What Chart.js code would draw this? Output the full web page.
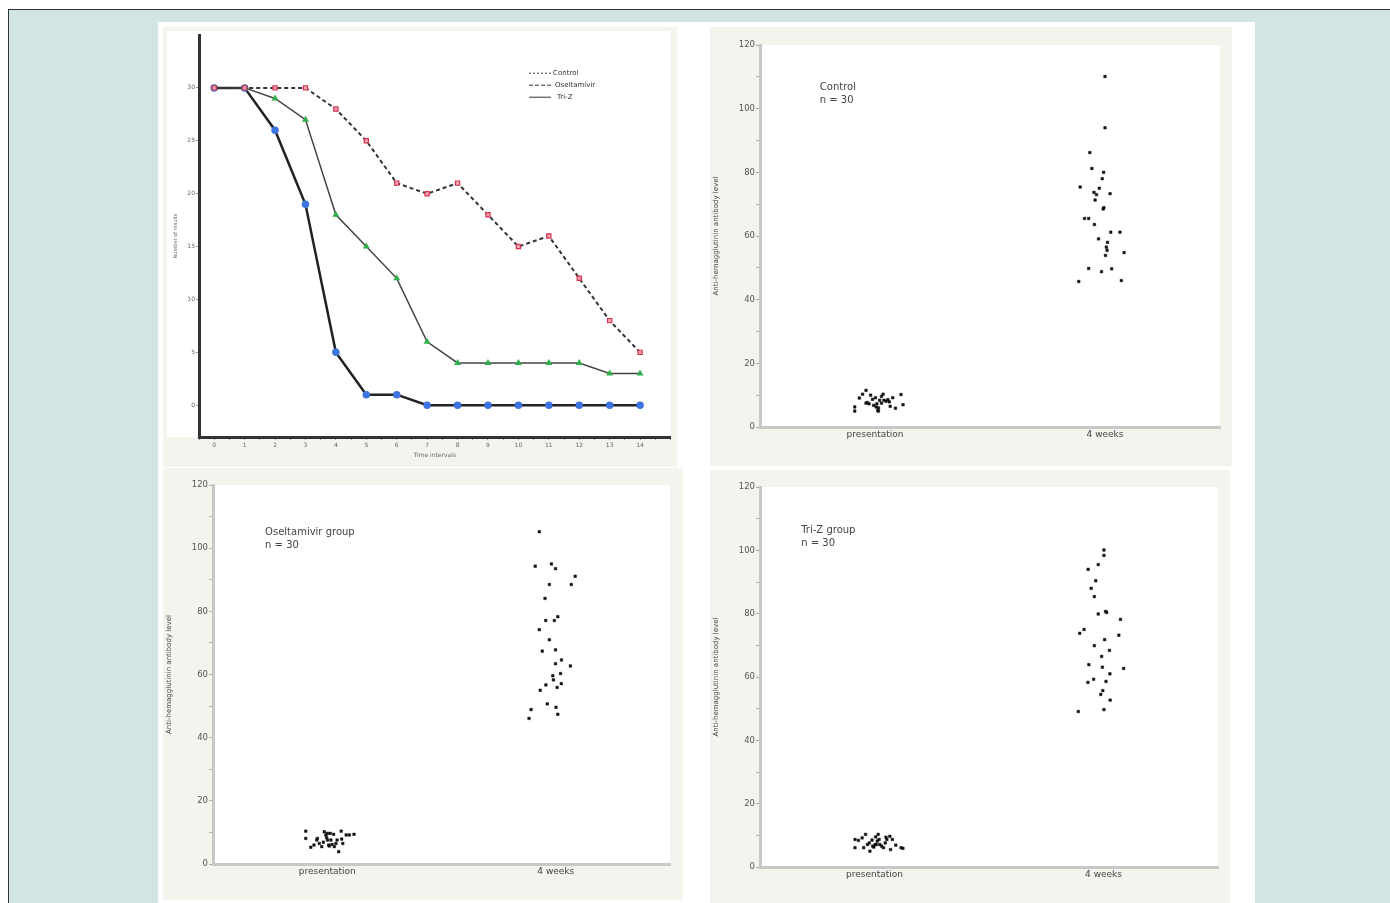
<!DOCTYPE html>
<html>
<head>
<meta charset="utf-8">
<script src="https://cdn.jsdelivr.net/npm/chart.js@4"></script>
<style>
  html, body { margin: 0; padding: 0; background: #fff; }
  body { width: 1390px; height: 903px; position: relative; overflow: hidden; }
  #frame { position: absolute; left: 8px; top: 9px; right: 0; bottom: 0; background: #d3e5e3; border-top: 1px solid #333; border-left: 1px solid #333; }
  #sheet { position: absolute; left: 158px; top: 22px; width: 1097px; height: 881px; background: #fff; }
  .panel { position: absolute; }
</style>
</head>
<body>
<div id="frame"></div>
<div id="sheet"></div>
<div class="panel" style="left:163px; top:27px; width:514px; height:440px;"><canvas id="survival"></canvas></div>
<div class="panel" style="left:710px; top:27px; width:522px; height:439px;"><canvas id="control"></canvas></div>
<div class="panel" style="left:163px; top:468px; width:520px; height:432px;"><canvas id="oseltamivir"></canvas></div>
<div class="panel" style="left:710px; top:470px; width:520px; height:433px;"><canvas id="triz"></canvas></div>
<script>
// time course (top left)
const intervals = [0, 1, 2, 3, 4, 5, 6, 7, 8, 9, 10, 11, 12, 13, 14];
const controlCounts = [30, 30, 30, 30, 28, 25, 21, 20, 21, 18, 15, 16, 12, 8, 5];
const oseltamivirCounts = [30, 30, 29, 27, 18, 15, 12, 6, 4, 4, 4, 4, 4, 3, 3];
const trizCounts = [30, 30, 26, 19, 5, 1, 1, 0, 0, 0, 0, 0, 0, 0, 0];

// antibody levels, x jitter
const groups = ['presentation', '4 weeks'];

const controlPres = [6.3, 5.0, 9.1, 10.3, 11.5, 7.5, 10.0, 7.3, 6.8, 9.2, 6.3, 5.2, 8.4, 9.6, 10.3, 8.4, 8.1, 8.6, 6.5, 9.2, 5.9, 10.2, 7.0, 6.0, 8.7, 7.3, 7.7, 7.9, 7.5, 5.0];
const controlPresJitter = [-0.088, -0.088, -0.068, -0.054, -0.039, -0.039, -0.019, -0.026, -0.006, 0.002, 0.005, 0.012, 0.02, 0.028, 0.035, 0.039, 0.048, 0.056, 0.066, 0.077, 0.089, 0.113, 0.122, 0.015, -0.011, 0.008, -0.034, 0.062, 0.028, 0.015];
const controlWeek4 = [110.1, 94.0, 86.2, 81.2, 80.0, 78.0, 75.4, 75.0, 73.7, 73.3, 73.0, 71.3, 68.9, 68.5, 65.5, 65.5, 63.6, 61.2, 61.2, 59.1, 58.0, 55.5, 56.5, 54.8, 53.9, 49.8, 49.7, 48.8, 46.0, 45.7];
const controlWeek4Jitter = [0.0, 0.0, -0.066, -0.057, -0.006, -0.012, -0.108, -0.025, -0.048, 0.022, -0.037, -0.043, -0.005, -0.008, -0.089, -0.071, -0.046, 0.025, 0.065, -0.028, 0.011, 0.009, 0.006, 0.083, 0.002, -0.071, 0.029, -0.015, 0.071, -0.114];

const oselPres = [10.4, 8.1, 5.3, 6.0, 7.6, 6.5, 5.5, 10.2, 9.2, 8.4, 7.6, 5.7, 9.7, 6.2, 9.4, 5.5, 6.5, 3.9, 10.4, 7.9, 6.5, 9.2, 9.2, 9.4, 9.7, 7.6, 6.9, 8.1, 7.6, 6.0];
const oselPresJitter = [-0.094, -0.094, -0.072, -0.058, -0.046, -0.035, -0.024, -0.013, -0.006, -0.003, 0.001, 0.009, 0.013, 0.021, 0.028, 0.031, 0.038, 0.050, 0.061, 0.063, 0.068, 0.083, 0.097, 0.117, 0.001, 0.016, -0.017, -0.043, 0.043, 0.006];
const oselWeek4 = [105.2, 94.3, 95.0, 93.5, 91.1, 88.5, 88.5, 84.1, 77.1, 77.1, 78.3, 74.2, 71.0, 67.4, 67.8, 64.6, 63.4, 62.7, 59.6, 60.3, 58.3, 56.7, 57.1, 55.9, 55.0, 50.7, 49.6, 48.9, 47.4, 46.1];
const oselWeek4Jitter = [-0.072, -0.090, -0.019, -0.001, 0.085, -0.028, 0.068, -0.047, -0.044, -0.006, 0.009, -0.072, -0.028, -0.059, -0.001, 0.025, -0.001, 0.064, -0.013, 0.021, -0.010, -0.043, 0.024, 0.006, -0.068, -0.037, 0.001, -0.108, 0.009, -0.117];

const trizPres = [6.1, 8.7, 8.4, 10.3, 7.1, 5.0, 8.5, 6.3, 9.5, 7.1, 10.3, 8.7, 6.6, 6.1, 7.6, 8.7, 9.7, 5.5, 8.7, 6.9, 6.1, 5.9, 9.2, 6.1, 7.1, 7.1, 7.6, 9.4, 8.2, 6.6];
const trizPresJitter = [-0.085, -0.085, -0.070, -0.039, -0.031, -0.020, -0.011, -0.003, 0.005, 0.008, 0.016, 0.020, 0.031, 0.039, 0.047, 0.054, 0.067, 0.070, 0.078, 0.093, 0.116, 0.124, -0.054, -0.047, 0.003, 0.023, -0.023, 0.050, 0.012, -0.008];
const trizWeek4 = [100.1, 98.4, 95.5, 94.0, 90.4, 88.0, 85.4, 80.7, 80.4, 79.9, 78.2, 75.0, 73.8, 73.2, 71.8, 69.9, 68.4, 66.5, 63.9, 63.1, 62.7, 61.0, 59.3, 58.3, 58.6, 55.7, 54.5, 52.7, 49.7, 49.1];
const trizWeek4Jitter = [0.002, 0.002, -0.023, -0.067, -0.034, -0.054, -0.040, 0.009, 0.014, -0.023, 0.074, -0.085, -0.104, 0.067, 0.005, -0.040, 0.026, -0.008, -0.064, -0.005, 0.088, 0.028, -0.043, -0.068, 0.011, -0.003, -0.012, 0.029, 0.002, -0.110];

Chart.defaults.font.family = '"DejaVu Sans", sans-serif';

// beige panel with a white plotting field
const panelBg = {
  id: 'panelBg',
  beforeDraw(chart, args, opts) {
    const { ctx, chartArea: a, width, height } = chart;
    ctx.save();
    ctx.fillStyle = '#f3f4ee';
    ctx.fillRect(0, 0, width, height);
    ctx.fillStyle = '#ffffff';
    if (opts.inset) ctx.fillRect(opts.inset, opts.inset, a.right - opts.inset, a.bottom - opts.inset);
    else ctx.fillRect(a.left, a.top, a.width, a.height);
    ctx.restore();
  }
};

const notePlugin = {
  id: 'note',
  afterDatasetsDraw(chart, args, opts) {
    if (!opts.lines) return;
    const { ctx, chartArea: a } = chart;
    ctx.save();
    ctx.font = '10px "DejaVu Sans"';
    ctx.fillStyle = '#444';
    ctx.textBaseline = 'middle';
    opts.lines.forEach((t, i) => ctx.fillText(t, a.left + a.width * opts.x, a.top + a.height * opts.y + i * 13));
    ctx.restore();
  }
};

const lineLegend = {
  id: 'lineLegend',
  afterDraw(chart, args, opts) {
    const { ctx, chartArea: a } = chart;
    const x = a.left + a.width * opts.x;
    ctx.save();
    ctx.font = '7px "DejaVu Sans"';
    ctx.fillStyle = '#333';
    ctx.strokeStyle = '#333';
    ctx.textBaseline = 'middle';
    chart.data.datasets.forEach((ds, i) => {
      const y = a.top + a.height * opts.y + i * 12;
      ctx.lineWidth = 1;
      ctx.setLineDash(opts.dashes[i]);
      ctx.beginPath();
      ctx.moveTo(x, y);
      ctx.lineTo(x + 22, y);
      ctx.stroke();
      ctx.setLineDash([]);
      ctx.fillText(ds.label, x + 24 + i * 2, y);
    });
    ctx.restore();
  }
};

new Chart(document.getElementById('survival'), {
  type: 'line',
  data: {
    datasets: [
      {
        label: 'Control',
        data: intervals.map((t, i) => ({ x: t, y: controlCounts[i] })),
        borderColor: '#333', borderWidth: 2, borderDash: [4, 3],
        pointStyle: 'rect', pointRadius: 3,
        pointBackgroundColor: '#f4a3b0', pointBorderColor: '#d8324f', pointBorderWidth: 1.2
      },
      {
        label: 'Oseltamivir',
        data: intervals.map((t, i) => ({ x: t, y: oseltamivirCounts[i] })),
        borderColor: '#444', borderWidth: 1.5,
        pointStyle: 'triangle', pointRadius: 2.5,
        pointBackgroundColor: '#2fae4a', pointBorderColor: '#2fae4a'
      },
      {
        label: 'Tri-Z',
        data: intervals.map((t, i) => ({ x: t, y: trizCounts[i] })),
        borderColor: '#222', borderWidth: 2.5,
        pointStyle: 'circle', pointRadius: 2.5,
        pointBackgroundColor: '#3c74e0', pointBorderColor: '#3c74e0'
      }
    ]
  },
  options: {
    responsive: true, maintainAspectRatio: false, animation: false,
    layout: { padding: { top: 8, right: 5, left: 0, bottom: 8 } },
    plugins: {
      legend: { display: false }, tooltip: { enabled: false },
      panelBg: { inset: 4 },
      lineLegend: { x: 0.70, y: 0.095, dashes: [[2, 2], [4, 2], []] }
    },
    scales: {
      x: {
        type: 'linear', min: -0.5, max: 15,
        afterFit: s => { s.height = 22; },
        ticks: { stepSize: 0.5, autoSkip: false, maxRotation: 0, font: { size: 6 }, color: '#666', padding: 2,
          callback: v => (Number.isInteger(v) && v >= 0 && v <= 14) ? v : '' },
        grid: { drawOnChartArea: false, tickLength: 3, color: '#999' },
        border: { color: '#333', width: 3 },
        title: { display: true, text: 'Time intervals', font: { size: 6 }, color: '#666', padding: 0 }
      },
      y: {
        min: -3, max: 35,
        afterFit: s => { s.width = 36; },
        afterBuildTicks: s => { s.ticks = s.ticks.filter(t => t.value >= 0 && t.value <= 30 && t.value % 5 === 0); },
        ticks: { stepSize: 5, font: { size: 6 }, color: '#666', padding: 1 },
        grid: { drawOnChartArea: false, tickLength: 3, color: '#999' },
        border: { color: '#333', width: 3 },
        title: { display: true, text: 'Number of results', font: { size: 5 }, color: '#666', padding: { top: 10, bottom: 0 } }
      }
    }
  },
  plugins: [panelBg, lineLegend]
});

function scatterPanel(id, note, presVals, presJit, weekVals, weekJit, box) {
  const pts = presVals.map((v, i) => ({ x: 0 + presJit[i], y: v }))
    .concat(weekVals.map((v, i) => ({ x: 1 + weekJit[i], y: v })));
  new Chart(document.getElementById(id), {
    type: 'scatter',
    data: {
      datasets: [{
        data: pts, pointStyle: 'rect', pointRadius: 1.8,
        backgroundColor: '#111', borderColor: '#111', borderWidth: 0.5
      }]
    },
    options: {
      responsive: true, maintainAspectRatio: false, animation: false,
      layout: { padding: { top: box.top, right: box.right, left: 0, bottom: 0 } },
      plugins: {
        legend: { display: false }, tooltip: { enabled: false },
        note: { lines: note, x: box.noteX, y: box.noteY }
      },
      scales: {
        x: {
          type: 'linear', min: -0.5, max: 1.5,
          afterFit: s => { s.height = box.bottom; },
          afterBuildTicks: s => { s.ticks = groups.map((g, i) => ({ value: i })); },
          ticks: { callback: v => groups[v], font: { size: 9 }, color: '#444', padding: 2, maxRotation: 0 },
          grid: { display: false, drawTicks: false },
          border: { color: '#c8c8c8', width: 3 }
        },
        y: {
          min: 0, max: 120,
          afterFit: s => { s.width = 50; },
          ticks: { stepSize: 10, callback: v => v % 20 === 0 ? v : '', font: { size: 8.5 }, color: '#555', padding: 1 },
          grid: { drawOnChartArea: false, tickLength: 4, color: '#aaa' },
          border: { color: '#c8c8c8', width: 3 },
          title: { display: true, text: 'Anti-hemagglutinin antibody level', font: { size: 7 }, color: '#444', padding: 2 }
        }
      }
    },
    plugins: [panelBg, notePlugin]
  });
}

scatterPanel('control', ['Control', 'n = 30'], controlPres, controlPresJitter, controlWeek4, controlWeek4Jitter,
  { top: 18, right: 12, bottom: 39, noteX: 0.13, noteY: 0.11 });
scatterPanel('oseltamivir', ['Oseltamivir group', 'n = 30'], oselPres, oselPresJitter, oselWeek4, oselWeek4Jitter,
  { top: 17, right: 13, bottom: 36, noteX: 0.114, noteY: 0.124 });
scatterPanel('triz', ['Tri-Z group', 'n = 30'], trizPres, trizPresJitter, trizWeek4, trizWeek4Jitter,
  { top: 17, right: 12, bottom: 36, noteX: 0.09, noteY: 0.113 });
</script>
</body>
</html>
